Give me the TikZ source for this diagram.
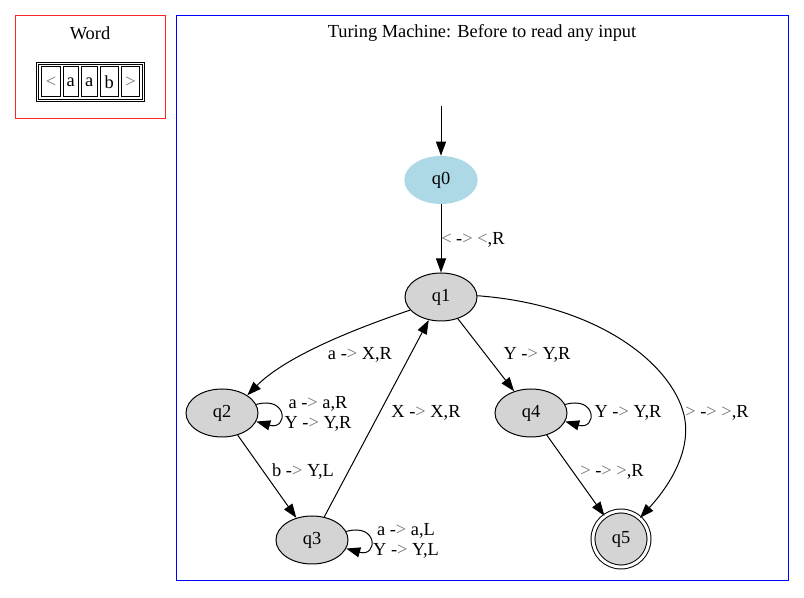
\documentclass[tikz,border=0pt]{standalone}
\usepackage{fontspec}
\setmainfont{Liberation Serif}
\usetikzlibrary{arrows.meta,shapes.geometric}
\newcommand{\glt}{\textcolor{black!55}{<}}
\newcommand{\ggt}{\textcolor{black!55}{>}}
\newcommand{\arr}{-\ggt}
\begin{document}
\begin{tikzpicture}[x=0.75pt,y=-0.75pt,
  font=\fontsize{13.8}{15}\selectfont,
  every node/.style={inner sep=0pt},
  state/.style={ellipse,draw,fill=black!17,minimum width=54pt,minimum height=36pt,line width=0.75pt},
  startstate/.style={ellipse,fill=lightblueclr,minimum width=55pt,minimum height=36pt},
  acc/.style={circle,draw,fill=black!17,minimum size=42pt,line width=0.75pt,double=white,double distance=2.2pt},
  tr/.style={-{Triangle[length=10.5pt,width=7.5pt]},line width=0.75pt},
  lbl/.style={anchor=center,align=center},
  cell/.style={draw,line width=0.6pt,minimum height=22.5pt,anchor=center},
  cluster/.style={line width=0.75pt},
]
\definecolor{lightblueclr}{HTML}{ADD8E6}
\useasboundingbox (0,0) rectangle (804,598);
% clusters
\draw[cluster,red!85] (15.5,15.5) rectangle (165.5,118.5);
\node (wordtitle) at (90,33) {Word};
\draw[cluster,blue] (176.5,15.5) rectangle (788.5,580.5);
\node (tmtitle) at (482,33) {Turing Machine: Before to read any input};
% word table
\draw[line width=0.6pt] (36.5,62.5) rectangle (144.5,101);
\draw[line width=0.6pt] (38.5,64.5) rectangle (142.5,99);
\node[cell,minimum width=14.5pt] (c1) at (51,81.8) {\glt};
\node[cell,minimum width=11pt] (c2) at (70.7,81.8) {a};
\node[cell,minimum width=12pt] (c3) at (89.2,81.8) {a};
\node[cell,minimum width=13.5pt] (c4) at (109.2,81.8) {b};
\node[cell,minimum width=14pt] (c5) at (130.5,81.8) {\ggt};
% states
\coordinate (start) at (441,106);
\node[startstate] (q0) at (441,180) {q0};
\node[state] (q1) at (441,297) {q1};
\node[state] (q2) at (222,413) {q2};
\node[state] (q3) at (312,540) {q3};
\node[state] (q4) at (531,413) {q4};
\node[acc] (q5) at (621,539) {q5};
% edges
\draw[tr] (start) -- (q0);
\draw[tr] (q0) -- (q1);
\node[anchor=west] (l01) at (441,240) {\glt{} \arr{} \glt,R};
\draw[tr] (q1.203) .. controls (375,322) and (290,352) .. (q2.35);
\node[lbl] (l12) at (360,355) {a \arr{} X,R};
\draw[tr] (q1) -- (q4);
\node[lbl] (l14) at (537,355) {Y \arr{} Y,R};
\draw[tr] (q1.2) .. controls (600,305) and (672,365) .. (684,415)
  .. controls (692,450) and (670,485) .. (q5.48);
\node[lbl] (l15) at (717,413) {\ggt{} \arr{} \ggt,R};
\draw[tr] (q2.14) .. controls +(32,-9) and +(32,9) .. (q2.-14);
\node[lbl] (l22) at (318,414) {a \arr{} a,R\\Y \arr{} Y,R};
\draw[tr] (q2) -- (q3);
\node[lbl] (l23) at (303,472) {b \arr{} Y,L};
\draw[tr] (q3) -- (q1);
\node[lbl] (l31) at (426,413) {X \arr{} X,R};
\draw[tr] (q3.14) .. controls +(32,-9) and +(32,9) .. (q3.-14);
\node[lbl] (l33) at (406,541) {a \arr{} a,L\\Y \arr{} Y,L};
\draw[tr] (q4.14) .. controls +(32,-9) and +(32,9) .. (q4.-14);
\node[lbl] (l44) at (628,413) {Y \arr{} Y,R};
\draw[tr] (q4) -- (q5);
\node[lbl] (l45) at (612,472) {\ggt{} \arr{} \ggt,R};
\end{tikzpicture}
\end{document}
